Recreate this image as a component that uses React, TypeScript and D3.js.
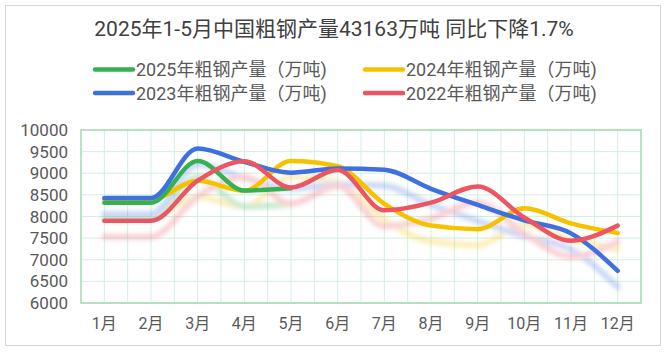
import * as d3 from 'd3';

const W = 668;
const H = 352;

const months = ['1月', '2月', '3月', '4月', '5月', '6月', '7月', '8月', '9月', '10月', '11月', '12月'];
const yTicks = [6000, 6500, 7000, 7500, 8000, 8500, 9000, 9500, 10000];

// 万吨
const s2025 = [8317, 8317, 9284, 8602, 8655];
const s2024 = [8398, 8398, 8827, 8594, 9286, 9161, 8294, 7790, 7707, 8188, 7840, 7618];
const s2023 = [8430, 8430, 9573, 9264, 9012, 9111, 9080, 8641, 8267, 7909, 7610, 6744];
const s2022 = [7900, 7900, 8830, 9278, 8670, 9073, 8143, 8320, 8695, 7976, 7441, 7789];

const series = [
  { name: '2025年粗钢产量（万吨)', values: s2025, color: '#36b152' },
  { name: '2024年粗钢产量（万吨)', values: s2024, color: '#f6c200' },
  { name: '2023年粗钢产量（万吨)', values: s2023, color: '#3f70e0' },
  { name: '2022年粗钢产量（万吨)', values: s2022, color: '#ec5562' },
];
// yellow sits under the others, red on top
const drawOrder = [1, 0, 2, 3];

const PLOT = { left: 81, right: 641, top: 130, bottom: 303 };
const FONT = 'Roboto, "Noto Sans CJK SC", sans-serif';

export default function App() {
  const x = d3.scaleBand<string>().domain(months).range([PLOT.left, PLOT.right]);
  const y = d3.scaleLinear().domain([6000, 10000]).range([PLOT.bottom, PLOT.top]);
  const cx = (i: number) => x(months[i])! + x.bandwidth() / 2;

  const line = d3
    .line<number>()
    .x((_, i) => cx(i))
    .y((d) => y(d))
    .curve(d3.curveMonotoneX);

  // vertical grid every half band
  const vGrid = d3.range(1, months.length * 2).map((k) => PLOT.left + (k * x.bandwidth()) / 2);

  const legendPos = [
    { x: 95, y: 69.5 },
    { x: 365, y: 69.5 },
    { x: 95, y: 93 },
    { x: 365, y: 93 },
  ];

  return (
    <svg
      width={W}
      height={H}
      style={{ position: 'fixed', left: 0, top: 0, background: '#fff', fontFamily: FONT }}
    >
      <defs>
        <filter id="blur" x="-10%" y="-30%" width="120%" height="160%">
          <feGaussianBlur stdDeviation="2.2" />
        </filter>
      </defs>

      <rect x={5.5} y={5.5} width={655} height={340} fill="#fff" stroke="#d6d6d6" />

      <text x={W / 2} y={29} textAnchor="middle" dominantBaseline="central" fontSize={21} fill="#404040">
        2025年1-5月中国粗钢产量43163万吨 同比下降1.7%
      </text>

      {series.map((s, i) => (
        <g key={s.name}>
          <line
            x1={legendPos[i].x}
            x2={legendPos[i].x + 38}
            y1={legendPos[i].y}
            y2={legendPos[i].y}
            stroke={s.color}
            strokeWidth={4.5}
            strokeLinecap="round"
          />
          <text
            x={legendPos[i].x + 41}
            y={legendPos[i].y}
            dominantBaseline="central"
            fontSize={18}
            fill="#595959"
          >
            {s.name}
          </text>
        </g>
      ))}

      {/* grid */}
      {yTicks.map((t) => (
        <line key={t} x1={PLOT.left} x2={PLOT.right} y1={y(t)} y2={y(t)} stroke="#d3efdf" strokeWidth={1} />
      ))}
      {vGrid.map((gx) => (
        <line key={gx} x1={gx} x2={gx} y1={PLOT.top} y2={PLOT.bottom} stroke="#d3efdf" strokeWidth={1} />
      ))}
      <rect
        x={PLOT.left}
        y={PLOT.top}
        width={PLOT.right - PLOT.left}
        height={PLOT.bottom - PLOT.top}
        fill="none"
        stroke="#a2d9b6"
        strokeWidth={1.5}
      />

      {/* y axis labels */}
      {yTicks.map((t) => (
        <text key={t} x={68} y={y(t)} textAnchor="end" dominantBaseline="central" fontSize={17} fill="#595959">
          {t}
        </text>
      ))}

      {/* x axis labels */}
      {months.map((m, i) => (
        <text key={m} x={cx(i)} y={323} textAnchor="middle" dominantBaseline="central" fontSize={16} fill="#595959">
          {m}
        </text>
      ))}

      {/* soft shadows below the lines */}
      <g transform="translate(0,16)" filter="url(#blur)" opacity={0.28}>
        {drawOrder.map((k) => (
          <path
            key={k}
            d={line(series[k].values) ?? ''}
            fill="none"
            stroke={series[k].color}
            strokeWidth={6}
            strokeLinecap="round"
          />
        ))}
      </g>

      {drawOrder.map((k) => (
        <path
          key={k}
          d={line(series[k].values) ?? ''}
          fill="none"
          stroke={series[k].color}
          strokeWidth={4.5}
          strokeLinecap="round"
          strokeLinejoin="round"
        />
      ))}
    </svg>
  );
}
